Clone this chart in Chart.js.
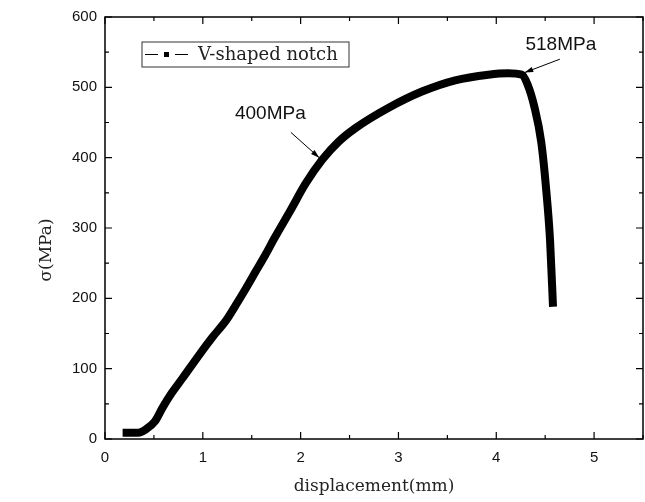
<!DOCTYPE html>
<html lang="en">
<head>
    <meta charset="UTF-8">
    <title>Stress - displacement</title>
    <script src="https://cdn.jsdelivr.net/npm/chart.js"></script>
    <style>
        html, body { margin: 0; padding: 0; background: #fff; overflow: hidden; }
        canvas { display: block; }
    </style>
</head>
<body>
    <canvas id="stressChart" width="645" height="502"></canvas>

    <script>
        // curve: displacement (mm) vs stress (MPa)
        const displacement = [0.18, 0.34, 0.42, 0.51, 0.59, 0.68, 0.79, 0.96, 1.10, 1.24, 1.34, 1.44, 1.54, 1.64, 1.73,
            1.90, 2.05, 2.22, 2.39, 2.56, 2.90, 3.24, 3.58, 3.92, 4.12, 4.26, 4.32, 4.39, 4.46, 4.51, 4.55, 4.58];
        const stress = [9, 9, 14, 25, 45, 65, 86, 119, 145, 169, 191, 214, 238, 262, 285,
            326, 363, 397, 423, 442, 471, 494, 510, 518, 520, 518, 504, 472, 422, 355, 282, 188];

        const seriesName = 'V-shaped notch';
        const xTicks = [0, 1, 2, 3, 4, 5];
        const yTicks = [0, 100, 200, 300, 400, 500, 600];
        const xTitle = 'displacement(mm)';
        const yTitle = 'σ(MPa)';

        // annotations: label, text centre, arrow start, arrow tip (data units)
        const notes = [
            { text: '400MPa', at: [1.69, 462], from: [1.90, 436], to: [2.19, 400] },
            { text: '518MPa', at: [4.66, 560], from: [4.65, 540], to: [4.29, 521] }
        ];

        const serif = '"DejaVu Serif", "Liberation Serif", serif';
        const sans = '"Liberation Sans", Arial, sans-serif';

        // ticks inside on all four sides, frame, titles, legend, notes
        const decorations = {
            id: 'decorations',
            afterDraw(chart) {
                const ctx = chart.ctx;
                const a = chart.chartArea;
                const xs = chart.scales.x, ys = chart.scales.y;
                ctx.save();
                ctx.strokeStyle = '#000';
                ctx.lineWidth = 1.5;
                ctx.strokeRect(a.left, a.top, a.right - a.left, a.bottom - a.top);

                ctx.lineWidth = 1.2;
                ctx.beginPath();
                for (let v = 0; v <= 5.5; v += 0.5) {
                    const px = xs.getPixelForValue(v);
                    const len = Number.isInteger(v) ? 7 : 4;
                    ctx.moveTo(px, a.bottom); ctx.lineTo(px, a.bottom - len);
                    ctx.moveTo(px, a.top); ctx.lineTo(px, a.top + len);
                }
                for (let v = 0; v <= 600; v += 50) {
                    const py = ys.getPixelForValue(v);
                    const len = v % 100 === 0 ? 7 : 4;
                    ctx.moveTo(a.left, py); ctx.lineTo(a.left + len, py);
                    ctx.moveTo(a.right, py); ctx.lineTo(a.right - len, py);
                }
                ctx.stroke();

                // axis titles
                ctx.fillStyle = '#222';
                ctx.font = '17px ' + serif;
                ctx.textAlign = 'center';
                ctx.textBaseline = 'middle';
                ctx.fillText(xTitle, (a.left + a.right) / 2, 487);
                ctx.save();
                ctx.translate(47, 250);
                ctx.rotate(-Math.PI / 2);
                ctx.fillText(yTitle, 0, 0);
                ctx.restore();

                // legend box
                const lx = a.left + 37, ly = a.top + 25;
                ctx.lineWidth = 1;
                ctx.strokeStyle = '#333';
                ctx.strokeRect(lx, ly, 207, 25);
                ctx.strokeStyle = '#000';
                ctx.beginPath();
                ctx.moveTo(lx + 3, ly + 12.5); ctx.lineTo(lx + 16, ly + 12.5);
                ctx.moveTo(lx + 33, ly + 12.5); ctx.lineTo(lx + 46, ly + 12.5);
                ctx.stroke();
                ctx.fillStyle = '#000';
                ctx.fillRect(lx + 22, ly + 10, 5, 5);
                ctx.fillStyle = '#222';
                ctx.font = '18px ' + serif;
                ctx.textAlign = 'left';
                ctx.fillText(seriesName, lx + 56, ly + 13);

                // annotations with arrows
                ctx.font = '19px ' + sans;
                ctx.textAlign = 'center';
                notes.forEach(n => {
                    ctx.fillStyle = '#111';
                    ctx.fillText(n.text, xs.getPixelForValue(n.at[0]), ys.getPixelForValue(n.at[1]));
                    const x1 = xs.getPixelForValue(n.from[0]), y1 = ys.getPixelForValue(n.from[1]);
                    const x2 = xs.getPixelForValue(n.to[0]), y2 = ys.getPixelForValue(n.to[1]);
                    const ang = Math.atan2(y2 - y1, x2 - x1);
                    ctx.strokeStyle = '#000';
                    ctx.lineWidth = 1;
                    ctx.beginPath();
                    ctx.moveTo(x1, y1); ctx.lineTo(x2, y2);
                    ctx.stroke();
                    ctx.beginPath();
                    ctx.moveTo(x2, y2);
                    ctx.lineTo(x2 - 9 * Math.cos(ang - 0.3), y2 - 9 * Math.sin(ang - 0.3));
                    ctx.lineTo(x2 - 9 * Math.cos(ang + 0.3), y2 - 9 * Math.sin(ang + 0.3));
                    ctx.closePath();
                    ctx.fillStyle = '#000';
                    ctx.fill();
                });
                ctx.restore();
            }
        };

        new Chart(document.getElementById('stressChart'), {
            type: 'line',
            data: {
                datasets: [{
                    label: seriesName,
                    data: displacement.map((x, i) => ({ x: x, y: stress[i] })),
                    borderColor: '#000',
                    borderWidth: 8,
                    borderCapStyle: 'butt',
                    borderJoinStyle: 'round',
                    cubicInterpolationMode: 'monotone',
                    pointRadius: 0,
                    fill: false
                }]
            },
            options: {
                responsive: false,
                animation: false,
                layout: { padding: { top: 16, right: 2, left: 0, bottom: 0 } },
                plugins: {
                    legend: { display: false },
                    tooltip: { enabled: false }
                },
                scales: {
                    x: {
                        type: 'linear',
                        min: 0,
                        max: 5.5,
                        afterBuildTicks: s => { s.ticks = xTicks.map(v => ({ value: v })); },
                        afterFit: s => { s.height = 63; },
                        grid: { display: false, drawTicks: false },
                        border: { display: false },
                        ticks: { color: '#111', padding: 10, maxRotation: 0, font: { family: sans, size: 15 } }
                    },
                    y: {
                        min: 0,
                        max: 600,
                        afterBuildTicks: s => { s.ticks = yTicks.map(v => ({ value: v })); },
                        afterFit: s => { s.width = 105; },
                        grid: { display: false, drawTicks: false },
                        border: { display: false },
                        ticks: { color: '#111', padding: 8, font: { family: sans, size: 15 } }
                    }
                }
            },
            plugins: [decorations]
        });
    </script>
</body>
</html>
